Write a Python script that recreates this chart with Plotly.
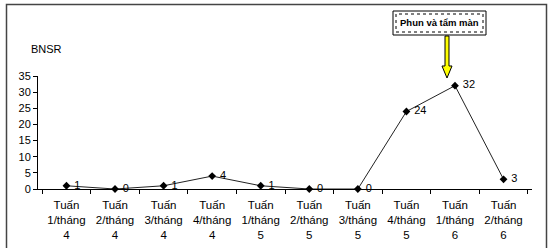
import plotly.graph_objects as go

weeks = ["1", "2", "3", "4", "1", "2", "3", "4", "1", "2"]
months = ["4", "4", "4", "4", "5", "5", "5", "5", "6", "6"]
categories = [f"Tuấn<br>{w}/tháng<br>{m}" for w, m in zip(weeks, months)]
bnsr = [1, 0, 1, 4, 1, 0, 0, 24, 32, 3]
y_ticks = [0, 5, 10, 15, 20, 25, 30, 35]

# plot area in pixels (for placing decorations)
L, R, T, B = 38, 532, 76, 189
W, H = 550, 248


def px(x):
    return (x - L) / (R - L)


def py(y):
    return (B - y) / (B - T)


FONT = "Liberation Sans, Arial, sans-serif"

fig = go.Figure()
fig.add_trace(go.Scatter(
    x=categories, y=bnsr, mode="lines+markers+text",
    line=dict(color="#222222", width=1),
    marker=dict(symbol="diamond", size=6, color="#000000"),
    text=[str(v) for v in bnsr], textposition="middle right",
    texttemplate=" %{text}",
    textfont=dict(family=FONT, size=11, color="#000000"),
    cliponaxis=False, showlegend=False,
))

shapes = [
    # outer chart border
    dict(type="rect", xref="paper", yref="paper",
         x0=px(6.5), x1=px(546.5), y0=py(265), y1=py(4.5),
         line=dict(color="#444444", width=1.5), fillcolor="rgba(0,0,0,0)", layer="below"),
    # callout box
    dict(type="rect", xref="paper", yref="paper",
         x0=px(393), x1=px(486), y0=py(35), y1=py(11),
         line=dict(color="#000000", width=1), fillcolor="#ffffff"),
    dict(type="rect", xref="paper", yref="paper",
         x0=px(396), x1=px(483), y0=py(32), y1=py(14),
         line=dict(color="#000000", width=1, dash="dot"), fillcolor="rgba(0,0,0,0)"),
]

# yellow arrow with black outline
ax_pts = [(445, 36), (449, 36), (449, 66), (452, 66), (447, 78), (442, 66), (445, 66)]
path = "M " + " L ".join(f"{px(a):.5f},{py(b):.5f}" for a, b in ax_pts) + " Z"
shapes.append(dict(type="path", xref="paper", yref="paper", path=path,
                   fillcolor="#ffff00", line=dict(color="#000000", width=1)))

annotations = [
    dict(text="BNSR", xref="paper", yref="paper", x=px(46), y=py(49),
         showarrow=False, font=dict(family=FONT, size=11, color="#000000"),
         xanchor="center", yanchor="middle"),
    dict(text="<b>Phun và tẩm màn</b>", xref="paper", yref="paper",
         x=px(439.5), y=py(23), showarrow=False,
         font=dict(family=FONT, size=9.5, color="#000000"),
         xanchor="center", yanchor="middle"),
]

fig.update_layout(
    width=W, height=H,
    margin=dict(l=L, r=W - R, t=T, b=H - B),
    paper_bgcolor="#ffffff", plot_bgcolor="#ffffff",
    font=dict(family=FONT, size=10, color="#000000"),
    shapes=shapes, annotations=annotations,
    xaxis=dict(type="category", tickson="boundaries", ticks="outside",
               ticklen=4, tickcolor="#000000", showline=True, linecolor="#000000",
               linewidth=1, showgrid=False, zeroline=False, ticklabelstandoff=5,
               automargin=False,
               tickfont=dict(family=FONT, size=11.5, color="#000000")),
    yaxis=dict(range=[0, 35], tickvals=y_ticks, ticks="outside", ticklen=4,
               tickcolor="#000000", showline=True, linecolor="#000000",
               linewidth=1, showgrid=False, zeroline=False, automargin=False,
               tickfont=dict(family=FONT, size=11, color="#000000")),
)

fig.write_html("out.html")
